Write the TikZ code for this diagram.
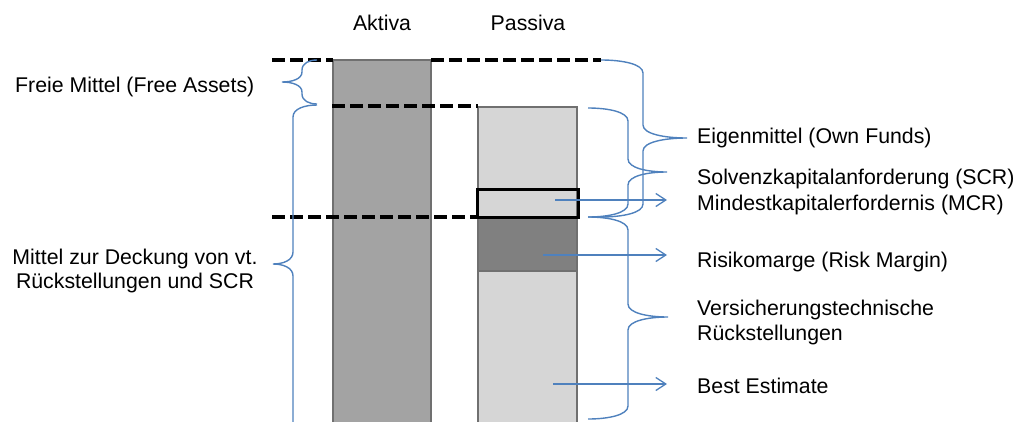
\documentclass[tikz,border=0pt]{standalone}
\usepackage{fontspec}
\setmainfont{Liberation Sans}
\usetikzlibrary{arrows.meta}

\definecolor{braceblue}{RGB}{79,129,189}
\definecolor{assetgray}{RGB}{163,163,163}
\definecolor{liabgray}{RGB}{214,214,214}
\definecolor{margingray}{RGB}{128,128,128}
\definecolor{edgegray}{RGB}{112,112,112}

% curly brace: #1 x of the ends, #2 x of the spine, #3 x of the tip,
% #4 y top, #5 y tip, #6 y bottom, #7 bend size
\newcommand\curlybrace[7]{%
  \draw[brace] (#1,#4) .. controls ({0.5*(#1+#2)},#4) and (#2,{#4+0.3*#7}) .. (#2,{#4+#7})
    -- (#2,{#5-#7}) .. controls (#2,{#5-0.3*#7}) and ({0.5*(#2+#3)},#5) .. (#3,#5)
    .. controls ({0.5*(#2+#3)},#5) and (#2,{#5+0.3*#7}) .. (#2,{#5+#7})
    -- (#2,{#6-#7}) .. controls (#2,{#6-0.3*#7}) and ({0.5*(#1+#2)},#6) .. (#1,#6);}

\begin{document}
\begin{tikzpicture}[x=1pt,y=-1pt,
  brace/.style={draw=braceblue, line width=1.4pt},
  pointer/.style={draw=braceblue, line width=1.3pt,
    -{Straight Barb[length=10pt,width=13pt,line width=1.3pt]}},
  level/.style={line width=3.6pt, dash pattern=on 13pt off 5pt},
  txt/.style={anchor=base west, inner sep=0pt, font=\fontsize{21.3}{25}\selectfont},
  head/.style={anchor=base, inner sep=0pt, font=\fontsize{21.3}{25}\selectfont},
  bar/.style={draw=edgegray, line width=1.3pt}]

\useasboundingbox (0,0) rectangle (1023,421);
\begin{scope}
\clip (0,0) rectangle (1023,421);

% column headings
\node[head] (aktiva) at (382,30) {Aktiva};
\node[head] (passiva) at (528,30) {Passiva};

% asset column
\draw[bar, fill=assetgray] (333,60) rectangle (431,430);

% liability column
\draw[bar, fill=liabgray] (478,107) rectangle (577,430);
\draw[bar, fill=margingray] (478,217) rectangle (577,271);
\draw[line width=3pt] (477,189) rectangle (578,217);

% dashed levels
\draw[level] (272,60) -- (333,60);
\draw[level] (431,60) -- (601,60);
\draw[level] (332,106) -- (478,106);
\draw[level] (272,217) -- (477,217);

% braces on the left
\curlybrace{317}{302}{282}{60}{82}{104}{10}
\curlybrace{317}{293}{273}{105}{264}{450}{12}

% braces on the right
\curlybrace{601}{643}{687}{60}{138}{217}{13}
\curlybrace{588}{628}{667}{108}{172}{217}{13}
\curlybrace{588}{628}{668}{217}{317}{419}{13}

% pointers
\coordinate (mcrA) at (555,200);  \coordinate (mcrB) at (667,200);
\coordinate (rmA) at (543,255);   \coordinate (rmB) at (667,255);
\coordinate (beA) at (553,384);   \coordinate (beB) at (667,384);
\draw[pointer] (mcrA) -- (mcrB);
\draw[pointer] (rmA) -- (rmB);
\draw[pointer] (beA) -- (beB);

% labels on the left
\node[txt] (free) at (15,92) {Freie Mittel (Free Assets)};
\node[head] (cover1) at (135,264) {Mittel zur Deckung von vt.};
\node[head] (cover2) at (135,288) {Rückstellungen und SCR};

% labels on the right
\node[txt] (own) at (697,143) {Eigenmittel (Own Funds)};
\node[txt] (scr) at (697,184) {Solvenzkapitalanforderung (SCR)};
\node[txt] (mcr) at (697,210) {Mindestkapitalerfordernis (MCR)};
\node[txt] (rm) at (697,267) {Risikomarge (Risk Margin)};
\node[txt] (vt1) at (697,315) {Versicherungstechnische};
\node[txt] (vt2) at (697,340) {Rückstellungen};
\node[txt] (be) at (697,393) {Best Estimate};
\end{scope}
\end{tikzpicture}
\end{document}
